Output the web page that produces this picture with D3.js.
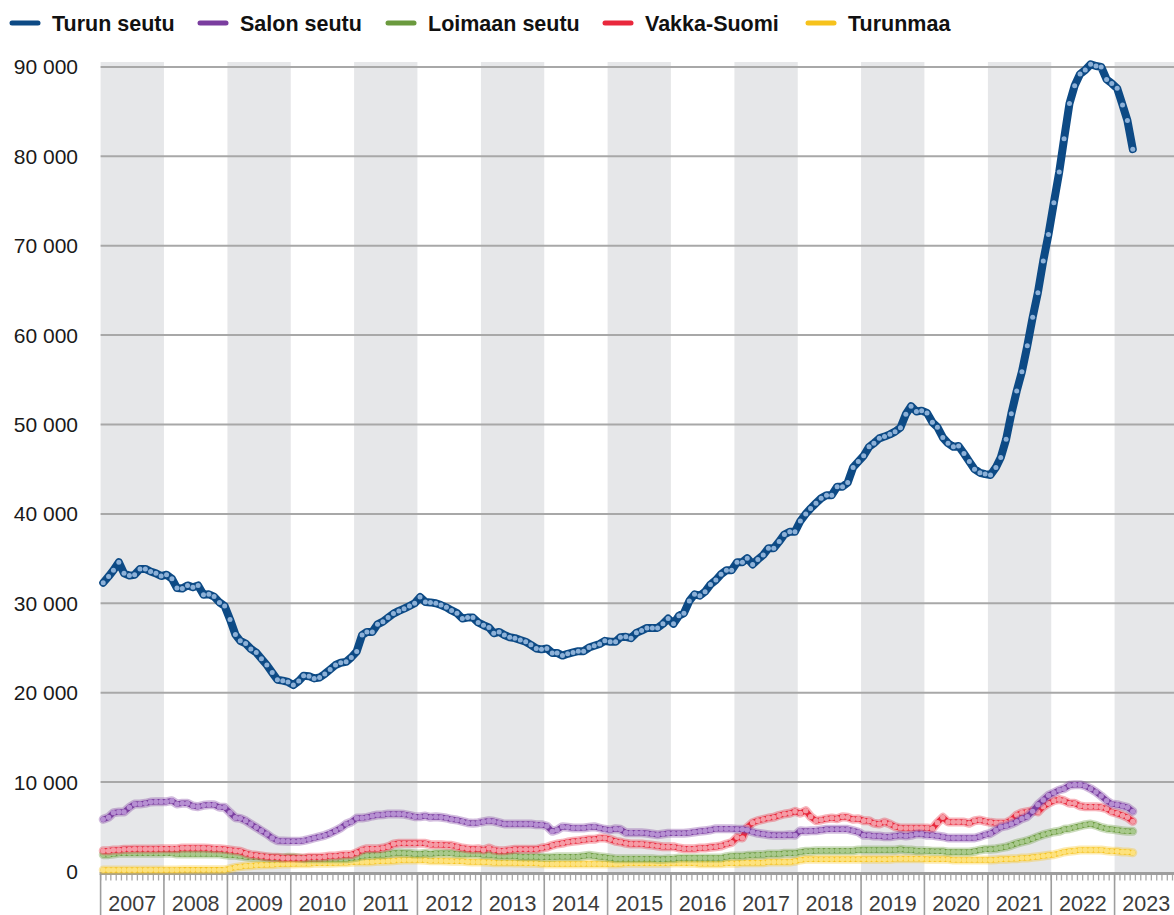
<!DOCTYPE html>
<html>
<head>
<meta charset="utf-8">
<script src="https://cdn.jsdelivr.net/npm/d3@7"></script>
<style>
  html, body { margin: 0; padding: 0; background: #fff; }
  svg { display: block; }
  text { font-family: "Liberation Sans", Arial, sans-serif; }
</style>
</head>
<body>
<svg id="chart" width="1174" height="915"></svg>
<script>
// Monthly series, January 2007 – April 2023
const startYear = 2007;

const turunSeutu = [
  32300,33000,33700,34600,33350,33100,33200,33850,33850,33550,33350,33050,
  33200,32750,31700,31650,32000,31800,32000,30950,31000,30750,30100,29700,
  28200,26500,25800,25500,24900,24500,23800,23100,22250,21450,21350,21200,
  20850,21300,21900,21850,21600,21700,22100,22600,23100,23350,23450,23950,
  24600,26450,26800,26800,27650,27950,28400,28850,29150,29400,29700,30000,
  30700,30150,30100,30000,29800,29550,29200,28900,28300,28400,28400,27850,
  27550,27300,26650,26800,26450,26200,26100,25900,25700,25350,24950,24850,
  24950,24450,24450,24150,24350,24500,24650,24650,25050,25250,25450,25800,
  25700,25700,26200,26250,26100,26700,26950,27250,27250,27250,27700,28300,
  27700,28600,28900,30250,31000,30850,31300,32100,32600,33250,33700,33700,
  34600,34600,35050,34350,34900,35400,36150,36150,36900,37700,38000,38000,
  39200,40000,40600,41200,41750,42100,42100,43050,43050,43500,45200,45850,
  46500,47500,47900,48450,48650,48900,49200,49650,51150,52050,51450,51550,
  51300,50250,49700,48550,47900,47500,47600,46750,45850,45000,44600,44450,
  44350,45200,46300,48350,51200,53750,55900,58800,62000,64750,68300,71250,
  74800,78250,81950,85900,87900,89200,89650,90300,90100,90000,88600,88150,
  87600,85750,84000,80800
];

const salonSeutu = [
  5835,6059,6581,6655,6655,7178,7550,7550,7625,7774,7811,7811,
  7811,7923,7550,7625,7625,7327,7252,7401,7476,7476,7178,7178,
  6581,6021,5947,5686,5313,4940,4567,4195,3747,3449,3412,3374,
  3374,3374,3449,3598,3747,3896,4045,4269,4567,4866,5313,5537,
  5984,5984,6059,6208,6320,6357,6432,6432,6432,6394,6283,6133,
  6133,6208,6059,6133,6059,5984,5835,5761,5612,5462,5388,5462,
  5575,5686,5612,5462,5313,5313,5313,5313,5313,5313,5238,5238,
  5089,4493,4642,5015,4940,4866,4866,4866,4940,5015,4866,4717,
  4642,4791,4717,4344,4344,4344,4344,4269,4195,4120,4195,4269,
  4269,4269,4269,4344,4418,4493,4567,4642,4791,4791,4791,4791,
  4717,4717,4642,4418,4269,4195,4120,4045,4045,4045,4120,4045,
  4567,4493,4567,4567,4642,4717,4717,4717,4717,4717,4567,4418,
  4045,4045,3971,3971,3896,3896,3971,4045,3971,4045,4195,4195,
  4045,4045,3971,3896,3747,3747,3747,3747,3747,3747,3896,4120,
  4250,4620,4980,5100,5313,5574,5910,6133,6730,7476,7998,8520,
  8818,9116,9265,9638,9713,9713,9564,9265,8893,8445,7923,7550,
  7476,7327,7178,6730
];

const loimaanSeutu = [
  1883,1883,1958,2032,2032,2032,2032,2032,2032,2032,2032,2032,
  2032,2032,1958,1958,1958,1958,1958,1958,1958,1958,1958,1883,
  1808,1808,1734,1659,1585,1585,1585,1510,1510,1510,1510,1585,
  1585,1510,1436,1436,1436,1436,1436,1436,1436,1436,1436,1510,
  1585,1734,1808,1808,1883,1883,1958,2032,2107,2032,2032,1958,
  1958,2032,1958,2032,2032,2032,2032,1958,1958,1958,1958,1958,
  1883,1883,1808,1734,1734,1734,1734,1659,1659,1659,1659,1585,
  1585,1585,1659,1659,1659,1659,1659,1734,1808,1734,1659,1585,
  1510,1436,1436,1436,1436,1436,1436,1436,1436,1361,1361,1436,
  1436,1510,1510,1510,1510,1510,1510,1510,1510,1510,1659,1734,
  1734,1734,1808,1808,1883,1883,1958,1958,1958,2032,2032,2032,
  2181,2256,2256,2330,2330,2330,2330,2330,2330,2330,2330,2405,
  2405,2405,2405,2405,2405,2405,2405,2480,2405,2405,2330,2330,
  2330,2256,2256,2256,2181,2181,2181,2181,2181,2256,2405,2480,
  2480,2550,2650,2750,2927,3151,3300,3449,3673,3896,4120,4269,
  4418,4493,4717,4791,4940,5089,5238,5313,5164,4940,4791,4717,
  4642,4567,4493,4493
];

const vakkaSuomi = [
  2330,2330,2405,2405,2480,2480,2517,2517,2517,2517,2517,2554,
  2554,2554,2554,2629,2629,2629,2629,2629,2591,2554,2554,2480,
  2405,2330,2256,2032,1883,1808,1734,1659,1585,1585,1510,1510,
  1510,1510,1510,1585,1585,1585,1659,1734,1734,1808,1883,1883,
  2107,2405,2554,2554,2554,2629,2778,3076,3151,3151,3151,3151,
  3151,3151,3001,3001,3001,2927,2927,2778,2629,2554,2480,2554,
  2405,2629,2405,2330,2330,2405,2480,2480,2480,2480,2480,2629,
  2703,2927,3076,3151,3300,3374,3449,3523,3598,3598,3747,3747,
  3598,3374,3300,3151,3076,3076,3076,3001,2927,2852,2778,2778,
  2778,2629,2554,2554,2554,2629,2629,2703,2778,2852,3076,3226,
  3822,3747,4940,5462,5686,5835,5984,6059,6283,6432,6506,6730,
  6506,6804,6133,5686,5761,5910,5984,5910,6133,6059,5835,5910,
  5686,5686,5388,5313,5537,5313,5015,4866,4866,4866,4866,4866,
  4866,4791,5462,6059,5537,5537,5537,5537,5388,5686,5761,5612,
  5500,5420,5420,5462,5761,6320,6581,6693,6804,6655,7252,7625,
  7923,8072,7923,7625,7625,7327,7252,7252,7252,7178,7028,6655,
  6506,6283,6059,5612
];

const turunmaa = [
  170,170,170,175,175,175,175,180,180,180,180,180,
  180,180,180,185,185,185,185,185,185,185,185,190,
  317,466,541,615,652,690,727,764,764,802,839,839,
  839,876,876,876,914,914,914,914,951,988,988,1025,
  1063,1063,1063,1100,1137,1137,1174,1212,1249,1286,1286,1286,
  1286,1249,1212,1212,1212,1174,1137,1137,1137,1100,1063,1063,
  1063,1025,988,988,988,988,951,951,914,914,914,876,
  839,839,839,839,839,839,839,839,839,839,839,839,
  839,839,876,914,914,914,914,914,914,914,914,914,
  951,951,914,914,914,876,876,876,876,876,914,914,
  914,988,988,988,988,988,1063,1063,1063,1063,1063,1137,
  1286,1361,1361,1361,1361,1361,1361,1361,1361,1361,1361,1361,
  1361,1361,1361,1361,1361,1361,1436,1436,1436,1436,1436,1436,
  1361,1361,1361,1361,1361,1286,1286,1286,1286,1286,1286,1286,
  1286,1320,1361,1361,1436,1436,1510,1510,1585,1659,1734,1808,
  1883,2032,2181,2256,2330,2405,2405,2405,2405,2405,2330,2256,
  2256,2181,2181,2107
];

const seriesNames = ["Turun seutu", "Salon seutu", "Loimaan seutu", "Vakka-Suomi", "Turunmaa"];
const seriesValues = [turunSeutu, salonSeutu, loimaanSeutu, vakkaSuomi, turunmaa];
const lineColors = ["#0d4a85", "#7a3d9f", "#6b9a3e", "#e9283c", "#f6c21c"];
const dotColors  = ["#8db1d8", "#b68fd2", "#a8c98c", "#f59ba5", "#fde27e"];
const yTicks = [0, 10000, 20000, 30000, 40000, 50000, 60000, 70000, 80000, 90000];
const yearLabels = d3.range(2007, 2024);

const W = 1174, H = 915;
const svg = d3.select("#chart");

const x = d3.scaleTime()
  .domain([new Date(2007, 0, 1), new Date(2024, 0, 1)])
  .range([100.6, 1177.9]);
const y = d3.scaleLinear().domain([0, 90000]).range([871.5, 66.9]);

const fmt = d3.formatLocale({ decimal: ",", thousands: "\u00a0", grouping: [3], currency: ["", "€"] }).format(",d");

const plotLeft = 100.6, plotTop = 62, plotBottom = 872;

// alternating year bands
svg.append("g").selectAll("rect")
  .data(yearLabels.filter(yr => (yr - 2007) % 2 === 0))
  .join("rect")
  .attr("x", d => x(new Date(d, 0, 1)))
  .attr("y", plotTop)
  .attr("width", d => Math.min(x(new Date(d + 1, 0, 1)), W) - x(new Date(d, 0, 1)))
  .attr("height", plotBottom - plotTop)
  .attr("fill", "#e6e7e9");

// horizontal gridlines
svg.append("g").selectAll("line")
  .data(yTicks.filter(v => v > 0))
  .join("line")
  .attr("x1", plotLeft).attr("x2", W)
  .attr("y1", d => y(d)).attr("y2", d => y(d))
  .attr("stroke", "#a8a8a8").attr("stroke-width", 2);

// y labels
svg.append("g").selectAll("text")
  .data(yTicks)
  .join("text")
  .attr("x", 78)
  .attr("y", d => y(d) + 7.5)
  .attr("text-anchor", "end")
  .attr("font-size", 21)
  .attr("fill", "#1a1a1a")
  .text(d => fmt(d));

// x axis: baseline, month ticks, year ticks and labels
const axisY = 873.5;
const months = d3.timeMonth.range(new Date(2007, 0, 1), new Date(2024, 0, 2));
svg.append("g").selectAll("line")
  .data(months)
  .join("line")
  .attr("x1", d => x(d)).attr("x2", d => x(d))
  .attr("y1", axisY).attr("y2", axisY + 7)
  .attr("stroke", "#a9a9a9").attr("stroke-width", 1.3);

const years = d3.timeYear.range(new Date(2007, 0, 1), new Date(2024, 0, 2));
svg.append("g").selectAll("line")
  .data(years)
  .join("line")
  .attr("x1", d => x(d)).attr("x2", d => x(d))
  .attr("y1", axisY).attr("y2", H)
  .attr("stroke", "#9d9d9d").attr("stroke-width", 1.6);

svg.append("line")
  .attr("x1", plotLeft - 1).attr("x2", W)
  .attr("y1", axisY).attr("y2", axisY)
  .attr("stroke", "#9d9d9d").attr("stroke-width", 3);

svg.append("g").selectAll("text")
  .data(yearLabels)
  .join("text")
  .attr("x", d => (x(new Date(d, 0, 1)) + x(new Date(d + 1, 0, 1))) / 2)
  .attr("y", 911)
  .attr("text-anchor", "middle")
  .attr("font-size", 21.5)
  .attr("fill", "#3c3c3c")
  .text(d => d);

// series lines with monthly markers
const dateOf = i => new Date(startYear, i, 16);
const line = d3.line().x((d, i) => x(dateOf(i))).y(d => y(d));

const order = [4, 2, 3, 1, 0];
order.forEach(k => {
  const vals = seriesValues[k];
  const g = svg.append("g");
  const big = k === 0;
  if (!big) {
    g.append("path").datum(vals).attr("d", line)
      .attr("fill", "none").attr("stroke", lineColors[k])
      .attr("stroke-opacity", 0.35).attr("stroke-width", 9)
      .attr("stroke-linejoin", "round").attr("stroke-linecap", "round");
  }
  g.append("path").datum(vals).attr("d", line)
    .attr("fill", "none").attr("stroke", lineColors[k])
    .attr("stroke-width", big ? 8 : 5.5)
    .attr("stroke-linejoin", "round").attr("stroke-linecap", "round");
  g.selectAll("circle").data(vals).join("circle")
    .attr("cx", (d, i) => x(dateOf(i)))
    .attr("cy", d => y(d))
    .attr("r", big ? 2.5 : 2.7)
    .attr("fill", dotColors[k]);
});

// legend
const legendX = [12, 200, 388, 605, 808];
const lg = svg.append("g").selectAll("g")
  .data(seriesNames)
  .join("g")
  .attr("transform", (d, i) => `translate(${legendX[i]},23)`);
lg.append("line")
  .attr("x1", 0).attr("x2", 26).attr("y1", 0).attr("y2", 0)
  .attr("stroke", (d, i) => lineColors[i]).attr("stroke-width", 5)
  .attr("stroke-linecap", "round");
lg.append("text")
  .attr("x", 40).attr("y", 7.5)
  .attr("font-size", 21.5)
  .attr("font-weight", "bold")
  .attr("fill", "#111")
  .text(d => d);
</script>
</body>
</html>
